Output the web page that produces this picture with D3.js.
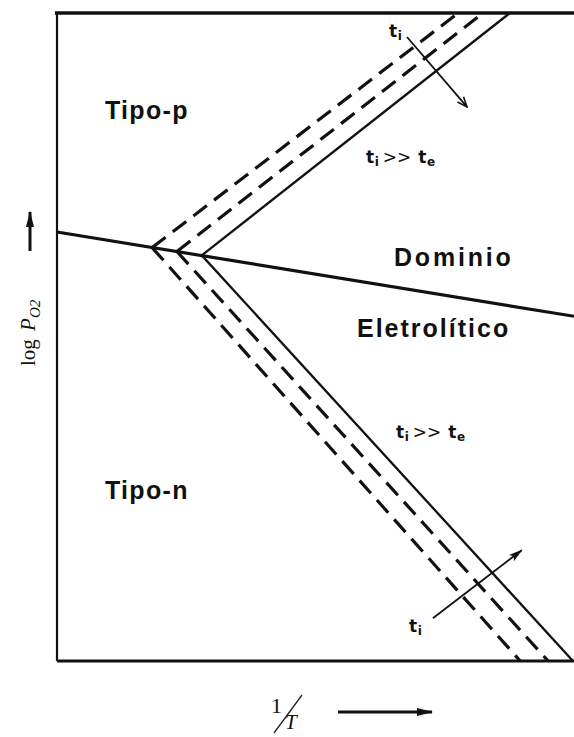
<!DOCTYPE html>
<html>
<head>
<meta charset="utf-8">
<script src="https://cdn.jsdelivr.net/npm/d3@7"></script>
<style>
  html, body { margin: 0; padding: 0; background: #fff; }
  svg { display: block; }
  .region { font-family: "Liberation Sans", Arial, sans-serif; font-weight: bold; fill: #111; }
  .ratio { font-family: "DejaVu Sans", sans-serif; fill: #111; }
  .axis-title { font-family: "Liberation Serif", serif; fill: #111; }
</style>
</head>
<body>
<svg id="chart" width="574" height="737"></svg>
<script>
// Axis ranges in arbitrary units: 1/T across, log pO2 upward
const xDomain = [0, 100];
const yDomain = [0, 100];

// Boundary of the electrolytic domain (log pO2 at both ends of the 1/T range)
const electrolyticX = [0, 100];
const electrolyticY = [66.2, 53.2];

// Iso-transference curves: they leave the electrolytic boundary at startX/startY,
// the p-type branch runs up to the top edge, the n-type branch down to the bottom edge
const curveNames = ["dashed-outer", "dashed-inner", "solid"];
const startX = [18.4, 23.2, 28.0];
const startY = [63.8, 63.2, 62.6];
const pTypeEndX = [77.6, 82.4, 87.6];
const pTypeEndY = [100, 100, 100];
const nTypeEndX = [89.6, 95.0, 99.8];
const nTypeEndY = [0, 0, 0];

// Direction arrows for increasing t_i
const arrowFrom = [[67.7, 96.3], [72.7, 6.6]];
const arrowTo = [[79.3, 85.5], [89.9, 17.1]];

const svg = d3.select("#chart");
const x = d3.scaleLinear().domain(xDomain).range([57, 574]);
const y = d3.scaleLinear().domain(yDomain).range([661, 13]);
const line = d3.line().x(d => x(d[0])).y(d => y(d[1]));

const defs = svg.append("defs");
defs.append("marker")
  .attr("id", "head-open").attr("viewBox", "0 0 12 10")
  .attr("refX", 11).attr("refY", 5)
  .attr("markerWidth", 12).attr("markerHeight", 10)
  .attr("markerUnits", "userSpaceOnUse").attr("orient", "auto")
  .append("path").attr("d", "M1,1 L11,5 L1,9")
  .attr("fill", "none").attr("stroke", "#111").attr("stroke-width", 1.6);
defs.append("marker")
  .attr("id", "head-solid").attr("viewBox", "0 0 14 10")
  .attr("refX", 13).attr("refY", 5)
  .attr("markerWidth", 14).attr("markerHeight", 10)
  .attr("markerUnits", "userSpaceOnUse").attr("orient", "auto")
  .append("path").attr("d", "M0,1 L14,5 L0,9 L3,5 Z").attr("fill", "#111");
defs.append("marker")
  .attr("id", "head-axis").attr("viewBox", "0 0 16 10")
  .attr("refX", 15).attr("refY", 5)
  .attr("markerWidth", 16).attr("markerHeight", 10)
  .attr("markerUnits", "userSpaceOnUse").attr("orient", "auto")
  .append("path").attr("d", "M0,1 L16,5 L0,9 Z").attr("fill", "#111");

// Frame: top, left and bottom edges
const frame = svg.append("g").attr("stroke", "#111").attr("fill", "none");
frame.append("path").attr("stroke-width", 3.5)
  .attr("d", line([[xDomain[0] - 0.4, yDomain[1]], [xDomain[1], yDomain[1]]]));
frame.append("path").attr("stroke-width", 2.2)
  .attr("d", line([[xDomain[0], yDomain[1]], [xDomain[0], yDomain[0]]]));
frame.append("path").attr("stroke-width", 3.2)
  .attr("d", line([[xDomain[0], yDomain[0]], [xDomain[1], yDomain[0]]]));

// Electrolytic boundary
svg.append("path")
  .attr("d", line(electrolyticX.map((v, i) => [v, electrolyticY[i]])))
  .attr("stroke", "#111").attr("stroke-width", 3.2).attr("fill", "none");

// Iso-transference curves
const curves = svg.append("g").attr("fill", "none").attr("stroke", "#111");
curveNames.forEach((name, i) => {
  const dashed = name !== "solid";
  [[pTypeEndX[i], pTypeEndY[i]], [nTypeEndX[i], nTypeEndY[i]]].forEach(end => {
    curves.append("path")
      .attr("class", name)
      .attr("d", line([[startX[i], startY[i]], end]))
      .attr("stroke-width", dashed ? 3.2 : 2.3)
      .attr("stroke-dasharray", dashed ? "17,9" : null);
  });
});

// Direction arrows
svg.append("path")
  .attr("d", line([arrowFrom[0], arrowTo[0]]))
  .attr("stroke", "#111").attr("stroke-width", 1.8).attr("fill", "none")
  .attr("marker-end", "url(#head-open)");
svg.append("path")
  .attr("d", line([arrowFrom[1], arrowTo[1]]))
  .attr("stroke", "#111").attr("stroke-width", 1.8).attr("fill", "none")
  .attr("marker-end", "url(#head-solid)");

// Region labels
const regions = [
  { text: "Tipo-p", px: 105, py: 119, spacing: 1.3 },
  { text: "Tipo-n", px: 105, py: 499, spacing: 1.3 },
  { text: "Dominio", px: 394, py: 266, spacing: 2.8 },
  { text: "Eletrolítico", px: 357, py: 337, spacing: 2 }
];
svg.selectAll("text.region").data(regions).join("text")
  .attr("class", "region")
  .attr("x", d => d.px).attr("y", d => d.py)
  .attr("font-size", 25)
  .attr("letter-spacing", d => d.spacing)
  .text(d => d.text);

// Transference-number labels
function tLabel(px, py, parts) {
  const t = svg.append("text").attr("class", "ratio").attr("x", px).attr("y", py).attr("font-size", 17);
  parts.forEach(p => {
    t.append("tspan")
      .attr("font-size", p.sub ? 12 : 17)
      .attr("font-weight", p.light ? "normal" : "bold")
      .attr("dy", p.dy || 0)
      .attr("dx", p.dx || 0)
      .text(p.s);
  });
}
const ratioParts = [
  { s: "t" }, { s: "i", sub: true, dy: 3, dx: 0.5 },
  { s: ">>", light: true, dy: -3, dx: 4 },
  { s: "t", dx: 7 }, { s: "e", sub: true, dy: 3, dx: 0.5 }
];
tLabel(366, 163, ratioParts);
tLabel(396, 438, ratioParts);
tLabel(389, 37, [{ s: "t" }, { s: "i", sub: true, dy: 3, dx: 0.5 }]);
tLabel(409, 632, [{ s: "t" }, { s: "i", sub: true, dy: 3, dx: 0.5 }]);

// Y-axis title with upward arrow
const yTitle = svg.append("text").attr("class", "axis-title")
  .attr("transform", "translate(35,366) rotate(-90)")
  .attr("font-size", 21);
yTitle.append("tspan").text("log ");
yTitle.append("tspan").attr("font-style", "italic").attr("dx", 3).text("P");
yTitle.append("tspan").attr("font-style", "italic").attr("font-size", 15).attr("dy", 5).text("O2");
svg.append("line")
  .attr("x1", 30).attr("y1", 251).attr("x2", 30).attr("y2", 212)
  .attr("stroke", "#111").attr("stroke-width", 3)
  .attr("marker-end", "url(#head-axis)");

// X-axis title 1/T with rightward arrow
const xt = svg.append("g").attr("class", "axis-title");
xt.append("text").attr("x", 271).attr("y", 713).attr("font-size", 22).text("1");
xt.append("line").attr("x1", 302).attr("y1", 695).attr("x2", 274).attr("y2", 733)
  .attr("stroke", "#222").attr("stroke-width", 1.3);
xt.append("text").attr("x", 285).attr("y", 729).attr("font-size", 21)
  .attr("font-style", "italic").text("T");
svg.append("line")
  .attr("x1", 338).attr("y1", 712).attr("x2", 432).attr("y2", 712)
  .attr("stroke", "#111").attr("stroke-width", 3)
  .attr("marker-end", "url(#head-axis)");
</script>
</body>
</html>
